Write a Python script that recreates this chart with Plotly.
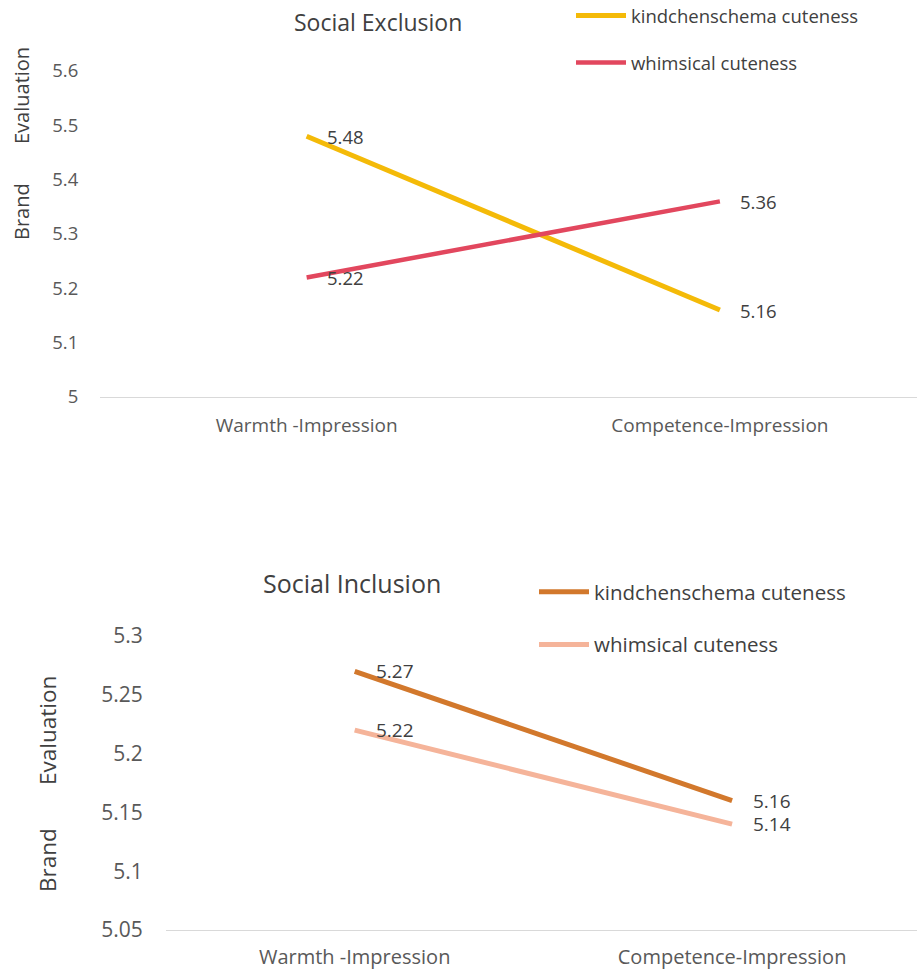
import plotly.graph_objects as go

categories = ["Warmth -Impression", "Competence-Impression"]
series_names = ["kindchenschema cuteness", "whimsical cuteness"]

excl_kinder = [5.48, 5.16]
excl_whims = [5.22, 5.36]
incl_kinder = [5.27, 5.16]
incl_whims = [5.22, 5.14]

excl_ticks = [5, 5.1, 5.2, 5.3, 5.4, 5.5, 5.6]
excl_ticktext = ["5", "5.1", "5.2", "5.3", "5.4", "5.5", "5.6"]
incl_ticks = [5.05, 5.1, 5.15, 5.2, 5.25, 5.3]
incl_ticktext = ["5.05", "5.1", "5.15", "5.2", "5.25", "5.3"]

W, H = 917, 972
FONT = "Open Sans"
TXT = "#404040"
TICK = "#595959"

def px_x(p):
    return p / W

def px_y(p):
    return 1 - p / H

fig = go.Figure()

fig.add_trace(go.Scatter(x=categories, y=excl_kinder, mode="lines", name=series_names[0],
                         line=dict(color="#F4BA08", width=5), xaxis="x", yaxis="y",
                         legend="legend", legendgroup="a"))
fig.add_trace(go.Scatter(x=categories, y=excl_whims, mode="lines", name=series_names[1],
                         line=dict(color="#E2475E", width=4.5), xaxis="x", yaxis="y",
                         legend="legend", legendgroup="b"))
fig.add_trace(go.Scatter(x=categories, y=incl_kinder, mode="lines", name=series_names[0],
                         line=dict(color="#D2782C", width=5), xaxis="x2", yaxis="y2",
                         legend="legend2", legendgroup="c"))
fig.add_trace(go.Scatter(x=categories, y=incl_whims, mode="lines", name=series_names[1],
                         line=dict(color="#F5B49A", width=5), xaxis="x2", yaxis="y2",
                         legend="legend2", legendgroup="d"))

annotations = []

def add_labels(xs, ys, xref, yref, size, shift):
    for xv, yv in zip(xs, ys):
        annotations.append(dict(x=xv, y=yv, xref=xref, yref=yref, text=f"{yv:.2f}",
                                showarrow=False, xanchor="left", yanchor="middle",
                                xshift=shift, borderpad=0,
                                font=dict(family=FONT, size=size, color=TXT)))

add_labels(categories, excl_kinder, "x", "y", 18.5, 19)
add_labels(categories, excl_whims, "x", "y", 18.5, 19)
add_labels(categories, incl_kinder, "x2", "y2", 19, 20)
add_labels(categories, incl_whims, "x2", "y2", 19, 20)

annotations.append(dict(x=px_x(378), y=px_y(22), xref="paper", yref="paper", text="Social Exclusion",
                        showarrow=False, xanchor="center", yanchor="middle",
                        font=dict(family=FONT, size=23, color=TXT)))
annotations.append(dict(x=px_x(352), y=px_y(583), xref="paper", yref="paper", text="Social Inclusion",
                        showarrow=False, xanchor="center", yanchor="middle",
                        font=dict(family=FONT, size=25, color=TXT)))
for txt, xp, yp, sz in [("Evaluation", 21, 96, 20), ("Brand", 21, 212, 20),
                        ("Evaluation", 47, 731, 22.5), ("Brand", 47, 860, 22.5)]:
    annotations.append(dict(x=px_x(xp), y=px_y(yp), xref="paper", yref="paper", text=txt,
                            showarrow=False, textangle=-90, xanchor="center", yanchor="middle",
                            font=dict(family=FONT, size=sz, color=TXT)))

fig.update_layout(
    width=W, height=H,
    margin=dict(l=0, r=0, t=0, b=0, autoexpand=False),
    paper_bgcolor="white", plot_bgcolor="white",
    font=dict(family=FONT, color=TICK),
    annotations=annotations,
    xaxis=dict(domain=[px_x(100), 1.0], range=[-0.5, 1.477], type="category", automargin=False,
               showline=True, linecolor="#D9D9D9", linewidth=1, showgrid=False, zeroline=False,
               ticks="outside", ticklen=11, tickcolor="rgba(0,0,0,0)",
               tickfont=dict(family=FONT, size=19, color=TICK), anchor="y"),
    yaxis=dict(domain=[px_y(397), px_y(71)], range=[5, 5.6], tickvals=excl_ticks, ticktext=excl_ticktext,
               automargin=False, showline=False, showgrid=False, zeroline=False,
               ticks="outside", ticklen=17, tickcolor="rgba(0,0,0,0)",
               tickfont=dict(family=FONT, size=18.5, color=TICK), anchor="x"),
    xaxis2=dict(domain=[px_x(166), 1.0], range=[-0.5, 1.49], type="category", automargin=False,
                showline=True, linecolor="#D9D9D9", linewidth=1, showgrid=False, zeroline=False,
                ticks="outside", ticklen=9, tickcolor="rgba(0,0,0,0)",
                tickfont=dict(family=FONT, size=20, color=TICK), anchor="y2"),
    yaxis2=dict(domain=[px_y(930), px_y(636)], range=[5.05, 5.3], tickvals=incl_ticks, ticktext=incl_ticktext,
                automargin=False, showline=False, showgrid=False, zeroline=False,
                ticks="outside", ticklen=18, tickcolor="rgba(0,0,0,0)",
                tickfont=dict(family=FONT, size=21, color=TICK), anchor="x2"),
    legend=dict(x=px_x(571), y=px_y(-3), xanchor="left", yanchor="top", bgcolor="rgba(0,0,0,0)",
                font=dict(family=FONT, size=18.5, color=TXT), tracegroupgap=20, traceorder="grouped",
                itemwidth=50),
    legend2=dict(x=px_x(534), y=px_y(572), xanchor="left", yanchor="top", bgcolor="rgba(0,0,0,0)",
                 font=dict(family=FONT, size=20.5, color=TXT), tracegroupgap=23, traceorder="grouped",
                 itemwidth=50),
)

fig.write_html("out.html")
